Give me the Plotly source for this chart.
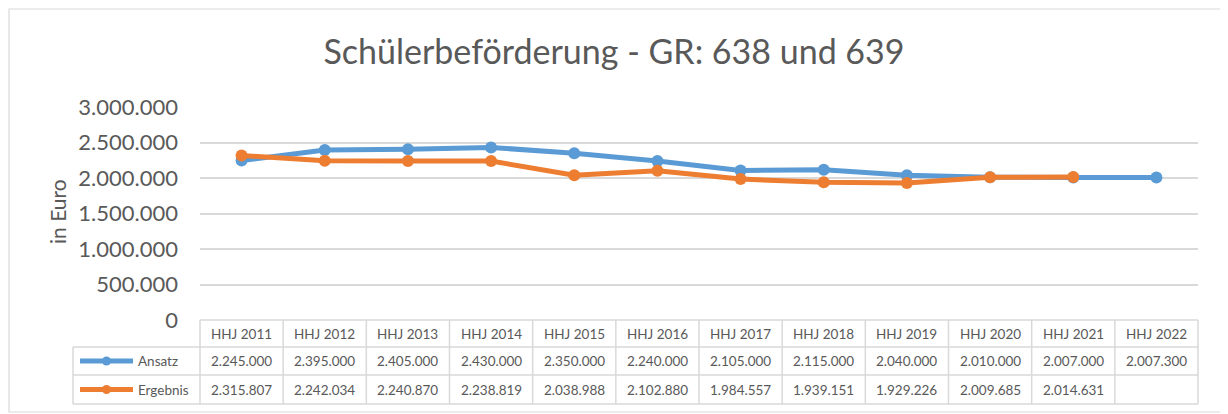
import plotly.graph_objects as go

# data
years = ["HHJ 2011", "HHJ 2012", "HHJ 2013", "HHJ 2014", "HHJ 2015", "HHJ 2016",
         "HHJ 2017", "HHJ 2018", "HHJ 2019", "HHJ 2020", "HHJ 2021", "HHJ 2022"]
ansatz = [2245000, 2395000, 2405000, 2430000, 2350000, 2240000,
          2105000, 2115000, 2040000, 2010000, 2007000, 2007300]
ergebnis = [2315807, 2242034, 2240870, 2238819, 2038988, 2102880,
            1984557, 1939151, 1929226, 2009685, 2014631, None]
y_ticks = [0, 500000, 1000000, 1500000, 2000000, 2500000, 3000000]

BLUE = "#5B9BD5"
ORANGE = "#ED7D31"
GREY = "#595959"
GRID = "#D9D9D9"
FONT = "Lato"

# page has an 8px body margin, so figure coords = screen coords - 8
OFF = 8
W, H = 1220, 406
L, T = 200 - OFF, 107 - OFF
plot_w = 1198 - 200
plot_h = 320 - 107
R = W - L - plot_w
B = H - T - plot_h


def px_x(px):
    # screen x -> paper x
    return (px - OFF - L) / plot_w


def px_y(py):
    # screen y -> paper y
    return (T + plot_h - (py - OFF)) / plot_h


def fmt(v):
    return "" if v is None else f"{v:,.0f}".replace(",", ".")


xs = list(range(len(years)))

fig = go.Figure()
fig.add_trace(go.Scatter(x=xs, y=ansatz, mode="lines+markers", name="Ansatz",
                         line=dict(color=BLUE, width=5), marker=dict(size=12, color=BLUE)))
fig.add_trace(go.Scatter(x=xs, y=ergebnis, mode="lines+markers", name="Ergebnis",
                         line=dict(color=ORANGE, width=5), marker=dict(size=12, color=ORANGE)))

# data table under the plot
row_top = [320, 347, 375]
row_bot = [347, 375, 404]
table_left = 73
line = dict(color=GRID, width=1.5)
shapes = []
shapes.append(dict(type="line", xref="paper", yref="paper", x0=0, x1=1,
                   y0=px_y(320), y1=px_y(320), line=line))
for yb in row_bot:
    shapes.append(dict(type="line", xref="paper", yref="paper", x0=px_x(table_left), x1=1,
                       y0=px_y(yb), y1=px_y(yb), line=line))
for i in range(len(years) - 1):
    shapes.append(dict(type="line", xref="x", yref="paper", x0=i + 0.5, x1=i + 0.5,
                       y0=px_y(320), y1=px_y(404), line=line))
for xp in (0, 1):
    shapes.append(dict(type="line", xref="paper", yref="paper", x0=xp, x1=xp,
                       y0=px_y(320), y1=px_y(404), line=line))
shapes.append(dict(type="line", xref="paper", yref="paper", x0=px_x(table_left), x1=px_x(table_left),
                   y0=px_y(347), y1=px_y(404), line=line))

annotations = []
tfont = dict(family=FONT, size=13.5, color=GREY)
rows = [(years, None), ([fmt(v) for v in ansatz], ("Ansatz", BLUE)),
        ([fmt(v) for v in ergebnis], ("Ergebnis", ORANGE))]
for r, (vals, leg) in enumerate(rows):
    yc = px_y((row_top[r] + row_bot[r]) / 2)
    for i, txt in enumerate(vals):
        annotations.append(dict(x=i, y=yc, xref="x", yref="paper", text=txt, showarrow=False,
                                font=tfont, xanchor="center", yanchor="middle"))
    if leg:
        name, col = leg
        shapes.append(dict(type="line", xref="paper", yref="paper", x0=px_x(80), x1=px_x(133),
                           y0=yc, y1=yc, line=dict(color=col, width=5)))
        shapes.append(dict(type="circle", xref="paper", yref="paper",
                           x0=px_x(102), x1=px_x(111), y0=yc - 4.5 / plot_h, y1=yc + 4.5 / plot_h,
                           fillcolor=col, line=dict(width=0)))
        annotations.append(dict(x=px_x(136), y=yc, xref="paper", yref="paper", text=name,
                                showarrow=False, font=tfont, xanchor="left", yanchor="middle"))

# outer chart border
shapes.append(dict(type="rect", xref="paper", yref="paper", x0=px_x(9), x1=px_x(1221),
                   y0=px_y(412), y1=px_y(9), line=dict(color=GRID, width=1.2), layer="above"))

annotations.append(dict(x=px_x(57), y=px_y(212), xref="paper", yref="paper", text="in Euro",
                        textangle=-90, showarrow=False, font=dict(family=FONT, size=21, color=GREY),
                        xanchor="center", yanchor="middle"))

fig.update_layout(
    width=W, height=H,
    margin=dict(l=L, r=R, t=T, b=B),
    paper_bgcolor="white", plot_bgcolor="white",
    separators=",.",
    showlegend=False,
    title=dict(text="Schülerbeförderung - GR: 638 und 639", x=(614 - OFF) / W, xanchor="center",
               y=1 - (52 - OFF) / H, yanchor="middle", yref="container",
               font=dict(family=FONT, size=34, color=GREY)),
    xaxis=dict(range=[-0.5, len(years) - 0.5], showgrid=False, showticklabels=False,
               zeroline=False, showline=False, fixedrange=True),
    yaxis=dict(range=[0, 3000000], tickvals=y_ticks, tickformat=",d", showgrid=True,
               gridcolor=GRID, gridwidth=1.5, zeroline=False, showline=False,
               tickfont=dict(family=FONT, size=22, color=GREY), ticklabelstandoff=21),
    shapes=shapes,
    annotations=annotations,
)

fig.write_html("out.html")
